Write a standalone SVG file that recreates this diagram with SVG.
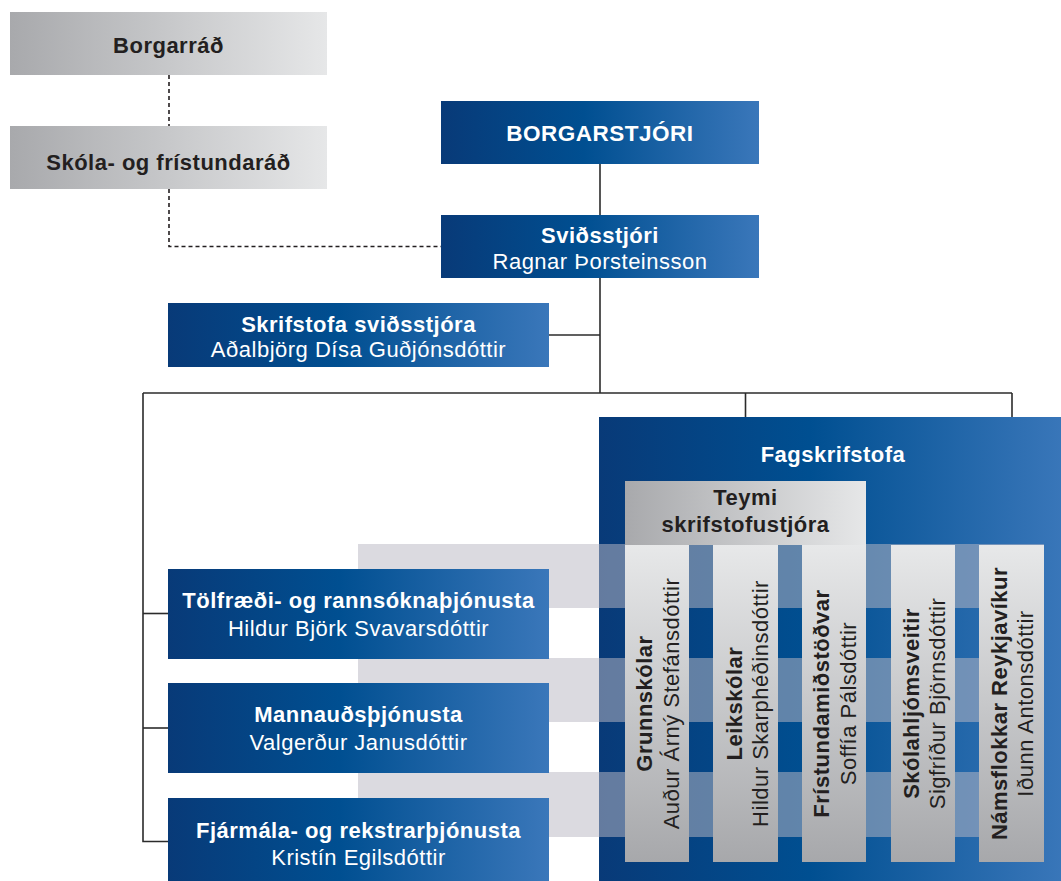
<svg xmlns="http://www.w3.org/2000/svg" width="1061" height="881" viewBox="0 0 1061 881">
<defs>
<linearGradient id="blue" x1="0" y1="0" x2="1" y2="0">
<stop offset="0" stop-color="#083a78"/>
<stop offset="0.45" stop-color="#004f91"/>
<stop offset="1" stop-color="#3a77ba"/>
</linearGradient>
<linearGradient id="greyH" x1="0" y1="0" x2="1" y2="0">
<stop offset="0" stop-color="#a8a9ac"/>
<stop offset="1" stop-color="#e6e7e8"/>
</linearGradient>
<linearGradient id="greyV" x1="0" y1="0" x2="0" y2="1">
<stop offset="0" stop-color="#e7e8e9"/>
<stop offset="1" stop-color="#a7a8ab"/>
</linearGradient>
<style>
text{font-family:"Liberation Sans",Arial,sans-serif;font-size:22px;text-anchor:middle;letter-spacing:0.5px}
.b{font-weight:700}
.w{fill:#ffffff}
.d{fill:#231f20}
.bl{fill:url(#blue)}
.gh{fill:url(#greyH)}
.gv{fill:url(#greyV)}
.band{fill:#bab9c3;fill-opacity:0.52}
.ln{fill:none;stroke:#2b2b2b;stroke-width:1.6}
.dash{fill:none;stroke:#231f20;stroke-width:1.6;stroke-dasharray:4 3}
</style>
</defs>

<g id="connectors">
<path class="dash" d="M169,75 V126"/>
<path class="dash" d="M169,189 V246.5 H441"/>
<path class="ln" d="M600,164 V215"/>
<path class="ln" d="M600,278 V393"/>
<path class="ln" d="M549,335 H600"/>
<path class="ln" d="M143,393 H1012"/>
<path class="ln" d="M745.5,393 V417"/>
<path class="ln" d="M1012,393 V417"/>
<path class="ln" d="M143,393 V841.5 H168"/>
<path class="ln" d="M143,613.5 H168"/>
<path class="ln" d="M143,728 H168"/>
</g>

<g id="borgarrad">
<rect class="gh" x="10" y="12" width="317" height="63"/>
<text class="b d" x="168.5" y="53">Borgarráð</text>
</g>
<g id="skola-og-fristundarad">
<rect class="gh" x="10" y="126" width="317" height="63"/>
<text class="b d" x="168.5" y="170">Skóla- og frístundaráð</text>
</g>
<g id="borgarstjori">
<rect class="bl" x="441" y="101" width="318" height="63"/>
<text class="b w" x="600" y="141" style="font-size:22.5px">BORGARSTJÓRI</text>
</g>
<g id="svidsstjori">
<rect class="bl" x="441" y="215" width="318" height="63"/>
<text class="b w" x="600" y="242.5">Sviðsstjóri</text>
<text class="w" x="600" y="268.5">Ragnar Þorsteinsson</text>
</g>
<g id="skrifstofa">
<rect class="bl" x="168" y="303" width="381" height="64"/>
<text class="b w" x="358.5" y="331.5">Skrifstofa sviðsstjóra</text>
<text class="w" x="358.5" y="356.5">Aðalbjörg Dísa Guðjónsdóttir</text>
</g>

<g id="fagskrifstofa">
<rect class="bl" x="599" y="417" width="468" height="470"/>
<text class="b w" x="833" y="461.5">Fagskrifstofa</text>
</g>

<g id="bands">
<rect class="band" x="358" y="544" width="686" height="64"/>
<rect class="band" x="358" y="658" width="686" height="64"/>
<rect class="band" x="358" y="772" width="686" height="65"/>
</g>

<g id="teymi">
<rect class="gh" x="625" y="481" width="241" height="64"/>
<text class="b d" x="745.5" y="505">Teymi</text>
<text class="b d" x="745.5" y="531.5">skrifstofustjóra</text>
</g>

<g id="grunnskolar">
<rect class="gv" x="625" y="545" width="64" height="317"/>
<text class="b d" transform="translate(652,703.5) rotate(-90)">Grunnskólar</text>
<text class="d" transform="translate(679.3,703.5) rotate(-90)">Auður Árný Stefánsdóttir</text>
</g>
<g id="leikskolar">
<rect class="gv" x="713" y="545" width="65" height="317"/>
<text class="b d" transform="translate(741.7,703.5) rotate(-90)">Leikskólar</text>
<text class="d" transform="translate(768.3,703.5) rotate(-90)">Hildur Skarphéðinsdóttir</text>
</g>
<g id="fristundamidstodvar">
<rect class="gv" x="802" y="545" width="64" height="317"/>
<text class="b d" transform="translate(828.5,703.5) rotate(-90)">Frístundamiðstöðvar</text>
<text class="d" transform="translate(856,703.5) rotate(-90)">Soffía Pálsdóttir</text>
</g>
<g id="skolahljomsveitir">
<rect class="gv" x="891" y="545" width="64" height="317"/>
<text class="b d" transform="translate(918.5,703.5) rotate(-90)">Skólahljómsveitir</text>
<text class="d" transform="translate(945,703.5) rotate(-90)">Sigfríður Björnsdóttir</text>
</g>
<g id="namsflokkar">
<rect class="gv" x="979" y="545" width="65" height="317"/>
<text class="b d" transform="translate(1006.7,703.5) rotate(-90)">Námsflokkar Reykjavíkur</text>
<text class="d" transform="translate(1033.3,703.5) rotate(-90)">Iðunn Antonsdóttir</text>
</g>

<g id="tolfraedi">
<rect class="bl" x="168" y="569" width="381" height="90"/>
<text class="b w" x="358.5" y="608.3">Tölfræði- og rannsóknaþjónusta</text>
<text class="w" x="358.5" y="636">Hildur Björk Svavarsdóttir</text>
</g>
<g id="mannaudsthjonusta">
<rect class="bl" x="168" y="683" width="381" height="90"/>
<text class="b w" x="358.5" y="722.3">Mannauðsþjónusta</text>
<text class="w" x="358.5" y="750">Valgerður Janusdóttir</text>
</g>
<g id="fjarmala">
<rect class="bl" x="168" y="798" width="381" height="90"/>
<text class="b w" x="358.5" y="838.3">Fjármála- og rekstrarþjónusta</text>
<text class="w" x="358.5" y="865">Kristín Egilsdóttir</text>
</g>
</svg>
